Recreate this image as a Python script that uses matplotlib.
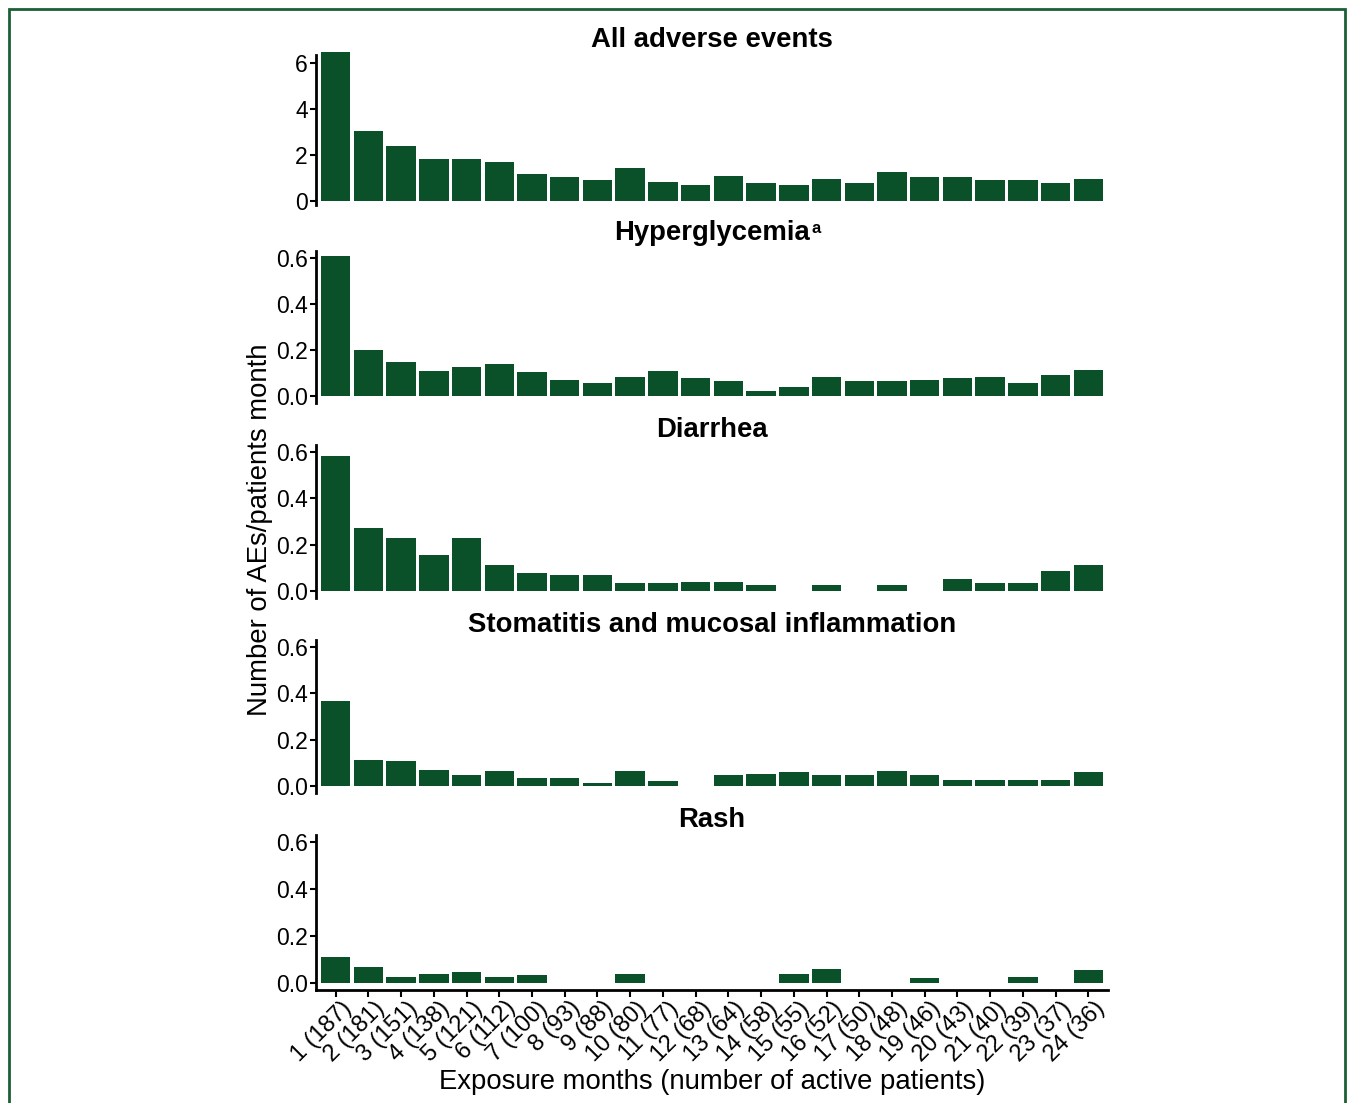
import matplotlib
matplotlib.use("Agg")
import matplotlib.pyplot as plt
from matplotlib.patches import Rectangle
from matplotlib.transforms import ScaledTranslation

plt.rcParams["font.family"] = ["Liberation Sans", "DejaVu Sans"]

# data
months = list(range(1, 25))
patients = [187, 181, 151, 138, 121, 112, 100, 93, 88, 80, 77, 68,
            64, 58, 55, 52, 50, 48, 46, 43, 40, 39, 37, 36]
all_ae = [6.48, 3.04, 2.39, 1.83, 1.83, 1.70, 1.17, 1.04, 0.91, 1.43, 0.83, 0.70,
          1.09, 0.78, 0.70, 0.96, 0.78, 1.26, 1.04, 1.04, 0.91, 0.91, 0.78, 0.96]
hyperglycemia = [0.607, 0.200, 0.147, 0.108, 0.127, 0.138, 0.103, 0.069, 0.055, 0.082, 0.108, 0.078,
                 0.064, 0.020, 0.039, 0.082, 0.064, 0.064, 0.069, 0.078, 0.082, 0.055, 0.091, 0.113]
diarrhea = [0.583, 0.274, 0.230, 0.157, 0.230, 0.112, 0.077, 0.068, 0.068, 0.034, 0.034, 0.038,
            0.038, 0.025, 0.0, 0.025, 0.0, 0.025, 0.0, 0.051, 0.034, 0.034, 0.086, 0.112]
stomatitis = [0.367, 0.111, 0.107, 0.068, 0.046, 0.063, 0.033, 0.033, 0.012, 0.063, 0.021, 0.0,
              0.046, 0.050, 0.059, 0.046, 0.046, 0.063, 0.046, 0.025, 0.025, 0.025, 0.025, 0.059]
rash = [0.112, 0.069, 0.025, 0.038, 0.047, 0.025, 0.034, 0.0, 0.0, 0.038, 0.0, 0.0,
        0.0, 0.0, 0.038, 0.060, 0.0, 0.0, 0.020, 0.0, 0.0, 0.025, 0.0, 0.056]

titles = ["All adverse events", "Hyperglycemia", "Diarrhea",
          "Stomatitis and mucosal inflammation", "Rash"]
series = [all_ae, hyperglycemia, diarrhea, stomatitis, rash]
tick_labels = [f"{m} ({n})" for m, n in zip(months, patients)]

bar_color = "#0a5029"
W, H = 1347, 1103
fig = plt.figure(figsize=(W / 100, H / 100), dpi=100)

# panel tops / bottoms in pixels
tops = [55, 251, 445, 640, 835]
bottoms = [205, 403, 598, 793, 990]
left_px, right_px = 316, 1108
mid_px = (left_px + right_px) / 2

for i, (vals, title) in enumerate(zip(series, titles)):
    ax = fig.add_axes([left_px / W, 1 - bottoms[i] / H,
                       (right_px - left_px) / W, (bottoms[i] - tops[i]) / H])
    ax.bar(months, vals, width=0.9, color=bar_color, clip_on=False)
    ax.set_xlim(0.4, 24.6)
    if i == 0:
        ax.set_ylim(-0.17, 6.35)
        ax.set_yticks([0, 2, 4, 6])
    else:
        ax.set_ylim(-0.03, 0.63)
        ax.set_yticks([0.0, 0.2, 0.4, 0.6])
        ax.set_yticklabels(["0.0", "0.2", "0.4", "0.6"])
    for s in ["top", "right"]:
        ax.spines[s].set_visible(False)
    ax.spines["left"].set_linewidth(2)
    ax.tick_params(axis="y", labelsize=16.5, length=4, width=1.5, pad=2)
    if i < 4:
        ax.spines["bottom"].set_visible(False)
        ax.set_xticks([])
    else:
        ax.spines["bottom"].set_linewidth(2)
        ax.set_xticks(months)
        ax.set_xticklabels(tick_labels, rotation=45, ha="right", va="top",
                           rotation_mode="anchor", fontsize=17)
        ax.tick_params(axis="x", length=5, width=1.5, pad=0)
        # nudge labels a little right, like the reference
        shift = ScaledTranslation(5 / 100, 0, fig.dpi_scale_trans)
        for lab in ax.get_xticklabels():
            lab.set_transform(lab.get_transform() + shift)
    # panel title
    if i == 1:
        fig.text(810 / W, 1 - 240 / H, title, ha="right", va="baseline",
                 fontsize=19.8, fontweight="bold")
        fig.text(811 / W, 1 - 233 / H, "a", ha="left", va="baseline",
                 fontsize=12, fontweight="bold")
    else:
        fig.text(mid_px / W, 1 - (tops[i] - 15) / H, title,
                 ha="center", va="center", fontsize=19.8, fontweight="bold")

# axis titles
fig.text(260 / W, 1 - 530 / H, "Number of AEs/patients month", rotation=90,
         ha="center", va="center", fontsize=19.8)
fig.text(712 / W, 1 - 1082 / H, "Exposure months (number of active patients)",
         ha="center", va="center", fontsize=19.8)

# green frame
fig.add_artist(Rectangle((9 / W, -0.02), (1345 - 9) / W, 1.02 - 9 / H,
                         transform=fig.transFigure, fill=False,
                         ec="#1c5f35", lw=2))

fig.savefig("out.png", dpi=100)
